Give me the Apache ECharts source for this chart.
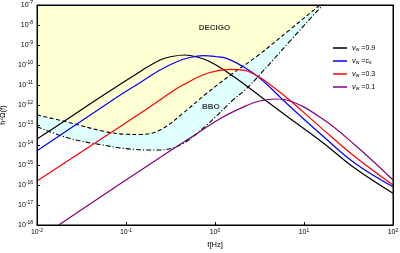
<!DOCTYPE html>
<html><head><meta charset="utf-8">
<script src="https://cdn.jsdelivr.net/npm/echarts@6/dist/echarts.min.js"></script>
<style>html,body{margin:0;padding:0;background:#fff}#c{width:400px;height:253px}</style>
</head><body><div id="c"></div>
<script>
// frequencies [Hz] and spectra h^2 Omega
const fBlack  = [0.01, 0.0212, 0.046, 0.1435, 0.241, 0.329, 0.46, 0.628, 0.879, 1.35, 2.08, 3.65, 6.6, 15.8, 37.4, 100];
const omBlack = [2.0e-14, 1.78e-13, 1.78e-12, 4.6e-11, 1.78e-10, 2.66e-10, 3.16e-10, 2.5e-10, 1.46e-10, 4.6e-11, 1.2e-11, 1.78e-12, 2.5e-13, 1.46e-14, 6.8e-16, 3.85e-17];
const fBlue   = [0.01, 0.071, 0.1435, 0.241, 0.372, 0.524, 0.74, 1.0, 1.35, 2.08, 3.2, 6.67, 15.8, 37.4, 100];
const omBlue  = [5.2e-15, 1.78e-12, 1.3e-11, 5.6e-11, 1.46e-10, 2.37e-10, 2.92e-10, 2.66e-10, 2.16e-10, 8.2e-11, 2.16e-11, 1.0e-12, 3.16e-14, 1.22e-15, 8.2e-17];
const fRed    = [0.01, 0.168, 0.337, 0.44, 0.834, 1.48, 2.08, 3.2, 4.1, 6.67, 15.8, 37.4, 100];
const omRed   = [1.58e-16, 5.96e-13, 5.0e-12, 1.02e-11, 4.0e-11, 6.1e-11, 5.6e-11, 2.37e-11, 1.1e-11, 2.0e-12, 6.8e-14, 2.6e-15, 1.0e-16];
const fPurple = [0.01754, 0.168, 0.524, 1.23, 2.27, 3.2, 4.72, 6.67, 15.8, 37.4, 100];
const omPurple= [1.0e-18, 8.2e-16, 2.24e-14, 2.5e-13, 9.4e-13, 1.58e-12, 2.0e-12, 1.68e-12, 2.16e-13, 1.0e-14, 1.78e-16];
const fDecigo = [0.01, 0.0212, 0.0547, 0.1, 0.1435, 0.241, 0.436, 0.807, 1.59, 3.04, 6.97, 15.1, 22.3];
const omDecigo= [3.16e-13, 1.46e-13, 5.0e-14, 3.43e-14, 3.35e-14, 5.6e-14, 3.85e-13, 3.85e-12, 3.85e-11, 3.0e-10, 5.96e-9, 1.0e-7, 4.0e-7];
const fBbo    = [0.01, 0.0231, 0.0547, 0.119, 0.221, 0.405, 0.807, 1.59, 2.17, 3.04, 6.97, 16.2, 22.3];
const omBbo   = [8.2e-14, 2.16e-14, 1.0e-14, 6.1e-15, 5.6e-15, 1.0e-14, 1.0e-13, 1.78e-12, 5.6e-12, 2.6e-11, 1.58e-9, 1.0e-7, 4.5e-7];
const seriesNames = ['0.9', 'cs', '0.3', '0.1'];
const seriesColors = ['#000000', '#0000ff', '#ff0000', '#800080'];
const detectorLabels = [{name: 'DECIGO', f: 0.987, om: 7.1e-9}, {name: 'BBO', f: 0.90, om: 8.2e-13}];
// axis range in decades (log10) and tick exponents
const xExpMin = -2, xExpMax = 2;
const yExpMin = -18, yExpMax = -7;

const FONT = 'Liberation Sans, Arial, sans-serif';
const L = Math.log10;
const pairs = (fs, os) => fs.map((f, i) => [L(f), L(os[i])]);
const chart = echarts.init(document.getElementById('c'), null, {renderer: 'canvas'});
const expLabel = v => '{b|10}{s|' + Math.round(v) + '}';
const tickRich = {
  b: {fontSize: 7, fontFamily: FONT, color: '#000'},
  s: {fontSize: 5, fontFamily: FONT, color: '#000', padding: [0, 0, 4, 0]}
};
const legendText = {
  '0.9': '{v|v}{w|w}{t| =0.9}',
  'cs': '{v|v}{w|w}{t| =c}{w|s}',
  '0.3': '{v|v}{w|w}{t| =0.3}',
  '0.1': '{v|v}{w|w}{t| =0.1}'
};
const curveData = [pairs(fBlack, omBlack), pairs(fBlue, omBlue), pairs(fRed, omRed), pairs(fPurple, omPurple)];

const series = [
  {type: 'line', name: 'BBO', data: pairs(fBbo, omBbo), symbol: 'none', smooth: 0.4, clip: true,
   lineStyle: {color: '#000', width: 1.1, type: [5, 2, 1.2, 2]}, areaStyle: {color: '#e0ffff', opacity: 1, origin: 'end'}, z: 1},
  {type: 'line', name: 'DECIGO', data: pairs(fDecigo, omDecigo), symbol: 'none', smooth: 0.4, clip: true,
   lineStyle: {color: '#000', width: 1.1, type: [4, 2.5]}, areaStyle: {color: '#ffffd4', opacity: 1, origin: 'end'}, z: 2},
  {type: 'scatter', name: 'labels', symbolSize: 0, z: 3,
   data: detectorLabels.map(d => ({name: d.name, value: [L(d.f), L(d.om)]})),
   label: {show: true, position: 'inside', formatter: p => p.name, fontFamily: FONT, fontWeight: 'bold', fontSize: 8, color: '#111'}}
];
seriesNames.forEach((n, i) => series.push({
  type: 'line', name: n, data: curveData[i], symbol: 'none', smooth: 0.4, clip: true, z: 4,
  lineStyle: {color: seriesColors[i], width: 1.2}, itemStyle: {color: seriesColors[i]}
}));

const axisCommon = {
  splitLine: {show: false}, z: 10,
  axisLine: {onZero: false, lineStyle: {color: '#000', width: 1}},
  axisTick: {inside: true, length: 3, lineStyle: {color: '#000'}}
};
const frameAxis = {
  splitLine: {show: false}, z: 10, axisLabel: {show: false}, axisTick: {show: false},
  axisLine: {onZero: false, lineStyle: {color: '#000', width: 1}}
};

chart.setOption({
  animation: false,
  backgroundColor: '#fff',
  grid: {left: 37, right: 7, top: 5, bottom: 28, show: true, z: 10, borderColor: '#000', borderWidth: 1, backgroundColor: 'transparent', outerBoundsMode: 'none'},
  xAxis: [Object.assign({
    type: 'value', min: xExpMin, max: xExpMax, interval: 1,
    name: 'f[Hz]', nameLocation: 'middle', nameGap: 16,
    nameTextStyle: {fontFamily: FONT, fontSize: 7.5, color: '#000'},
    axisLabel: {margin: 3, formatter: expLabel, rich: tickRich}
  }, axisCommon), Object.assign({
    type: 'value', min: xExpMin, max: xExpMax, interval: 1, position: 'top'
  }, frameAxis)],
  yAxis: [Object.assign({
    type: 'value', min: yExpMin, max: yExpMax, interval: 1,
    name: 'h²Ω(f)', nameLocation: 'middle', nameGap: 26, nameRotate: 90,
    nameTextStyle: {fontFamily: FONT, fontSize: 7.5, color: '#000'},
    axisLabel: {margin: 4, formatter: expLabel, rich: tickRich}
  }, axisCommon), Object.assign({
    type: 'value', min: yExpMin, max: yExpMax, interval: 1, position: 'right'
  }, frameAxis)],
  legend: {
    data: seriesNames, orient: 'vertical', left: 333, top: 44, icon: 'rect',
    itemWidth: 14, itemHeight: 1.5, itemGap: 4.5, padding: 0,
    formatter: n => legendText[n],
    textStyle: {fontFamily: FONT, fontSize: 7, color: '#000', rich: {
      v: {fontSize: 7.5, fontStyle: 'italic', fontFamily: FONT, color: '#000', lineHeight: 10},
      w: {fontSize: 5, fontFamily: FONT, color: '#000', padding: [4, 0, 0, 0]},
      t: {fontSize: 7, fontFamily: FONT, color: '#000', lineHeight: 10}
    }}
  },
  series: series
});
</script></body></html>
